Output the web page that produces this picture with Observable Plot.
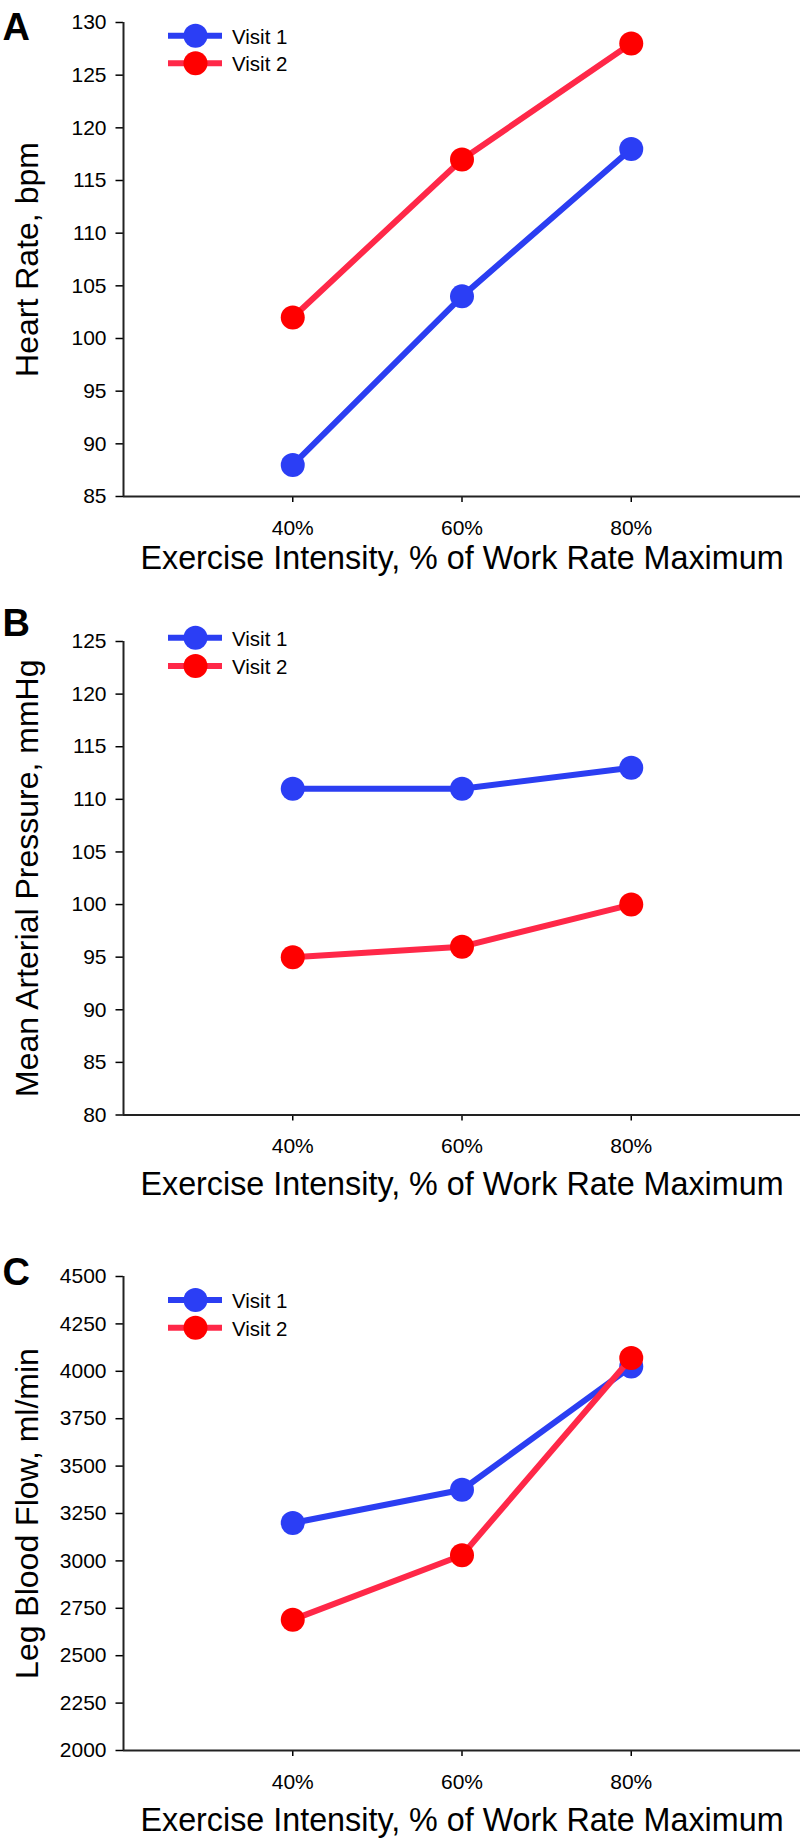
<!DOCTYPE html>
<html><head><meta charset="utf-8">
<script src="https://cdn.jsdelivr.net/npm/d3@7"></script>
<script src="https://cdn.jsdelivr.net/npm/@observablehq/plot@0.6"></script>
<style>
body{margin:0;background:#fff;}
#chart{width:802px;}
#chart svg{display:block;}
</style></head><body><div id="chart"></div>
<script>
// ---- data ----
const intensity = [40, 60, 80];
const intensityTicks = [40, 60, 80];
const seriesNames = ["Visit 1", "Visit 2"];
const hrVisit1 = [88, 104, 118];
const hrVisit2 = [102, 117, 128];
const hrTicks = [85, 90, 95, 100, 105, 110, 115, 120, 125, 130];
const mapVisit1 = [111, 111, 113];
const mapVisit2 = [95, 96, 100];
const mapTicks = [80, 85, 90, 95, 100, 105, 110, 115, 120, 125];
const lbfVisit1 = [3200, 3375, 4025];
const lbfVisit2 = [2690, 3030, 4070];
const lbfTicks = [2000, 2250, 2500, 2750, 3000, 3250, 3500, 3750, 4000, 4250, 4500];
const panelLetters = ["A", "B", "C"];
const yTitles = ["Heart Rate, bpm", "Mean Arterial Pressure, mmHg", "Leg Blood Flow, ml/min"];
const xTitle = "Exercise Intensity, % of Work Rate Maximum";

// ---- styling ----
const FONT = "'Liberation Sans', Arial, Helvetica, sans-serif";
const lineColors = ["#2b3ef2", "#ff2848"];
const dotColors = ["#2b3ef5", "#ff0000"];
const AXIS = "#222";

const panels = [
  {v1: hrVisit1, v2: hrVisit2, ticks: hrTicks, height: 600, mt: 22, mb: 104, titleDy: 72.5, letterDy: 17, legendY: [35.7, 63.3]},
  {v1: mapVisit1, v2: mapVisit2, ticks: mapTicks, height: 620, mt: 41, mb: 105.5, titleDy: 80, letterDy: -6, legendY: [37.7, 66]},
  {v1: lbfVisit1, v2: lbfVisit2, ticks: lbfTicks, height: 622, mt: 56, mb: 92, titleDy: 80.6, letterDy: 8, legendY: [80, 107.7]}
];

const chart = document.getElementById("chart");

panels.forEach((p, k) => {
  const rows = intensity.map((x, i) => ({x, visit1: p.v1[i], visit2: p.v2[i]}));
  const ymin = p.ticks[0], ymax = p.ticks[p.ticks.length - 1];
  const svg = Plot.plot({
    width: 802,
    height: p.height,
    marginLeft: 123,
    marginRight: 2,
    marginTop: p.mt,
    marginBottom: p.mb,
    style: {fontFamily: FONT, fontSize: "20px", background: "#fff", color: "#000"},
    x: {type: "linear", domain: [20, 100]},
    y: {type: "linear", domain: [ymin, ymax]},
    marks: [
      Plot.axisY({ticks: p.ticks, tickSize: 7.5, tickPadding: 9.5, label: null, fontSize: 21, tickFormat: d => String(d), strokeWidth: 1.5}),
      Plot.axisX({ticks: intensityTicks, tickSize: 6, tickPadding: 17.5, label: null, fontSize: 21, tickFormat: d => d + "%", strokeWidth: 1.5}),
      Plot.ruleX([20], {stroke: AXIS, strokeWidth: 2}),
      Plot.ruleY([ymin], {stroke: AXIS, strokeWidth: 2}),
      Plot.line(rows, {x: "x", y: "visit1", stroke: lineColors[0], strokeWidth: 6}),
      Plot.dot(rows, {x: "x", y: "visit1", r: 12, fill: dotColors[0], stroke: "none"}),
      Plot.line(rows, {x: "x", y: "visit2", stroke: lineColors[1], strokeWidth: 6}),
      Plot.dot(rows, {x: "x", y: "visit2", r: 12, fill: dotColors[1], stroke: "none"}),
      Plot.text([xTitle], {frameAnchor: "bottom", dy: p.titleDy, lineAnchor: "bottom", textAnchor: "middle", fontSize: 32.3, fill: "#000"}),
      Plot.text([yTitles[k]], {frameAnchor: "left", dx: -85.5, rotate: -90, lineAnchor: "bottom", textAnchor: "middle", fontSize: 32, fill: "#000"}),
      Plot.text([panelLetters[k]], {frameAnchor: "top-left", dx: -121, dy: p.letterDy, lineAnchor: "bottom", textAnchor: "start", fontSize: 38, fontWeight: "bold", fill: "#000"})
    ]
  });
  // legend
  const g = d3.select(svg).append("g").attr("class", "legend").attr("text-anchor", "start");
  seriesNames.forEach((name, i) => {
    const y = p.legendY[i];
    g.append("line").attr("x1", 168).attr("x2", 222).attr("y1", y).attr("y2", y)
      .attr("stroke", lineColors[i]).attr("stroke-width", 6);
    g.append("circle").attr("cx", 195.5).attr("cy", y).attr("r", 12).attr("fill", dotColors[i]);
    g.append("text").attr("x", 232).attr("y", y + 8).attr("font-size", 20.5)
      .attr("text-anchor", "start")
      .attr("font-family", FONT).attr("fill", "#000").text(name);
  });
  chart.appendChild(svg);
});
</script>
</body></html>
